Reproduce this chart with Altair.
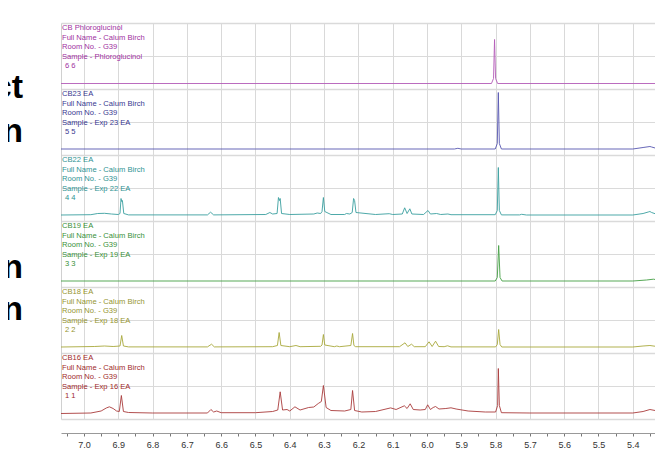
import altair as alt
import pandas as pd

# ---------------- data ----------------
panel_titles = ["CB Phloroglucinol", "CB23 EA", "CB22 EA", "CB19 EA", "CB18 EA", "CB16 EA"]
panel_samples = ["Phloroglucinol", "Exp 23 EA", "Exp 22 EA", "Exp 19 EA", "Exp 18 EA", "Exp 16 EA"]
panel_numbers = ["6 6", "5 5", "4 4", "3 3", "2 2", "1 1"]
full_name = "Calum Birch"
room_no = "G39"

text_colors = ["#a030a0", "#383890", "#2f9393", "#389038", "#959530", "#a02a2a"]
line_colors = ["#b45cb8", "#5656b0", "#3ba0a0", "#45a045", "#a8a83c", "#aa3c3c"]

# spectra: chemical shift (ppm) and intensity (a.u.)
phl_ppm = [7.067, 5.812, 5.806, 5.803, 5.800, 5.794, 5.30]
phl_int = [0, 0, 5, 44, 5, 0, 0]

cb23_ppm = [7.067, 6.50, 5.92, 5.91, 5.90, 5.801, 5.795, 5.792, 5.789, 5.783,
            5.40, 5.37, 5.35, 5.345, 5.33, 5.30]
cb23_int = [0.5, 0.5, 0.5, 1.2, 0.5, 0.5, 6, 57, 6, 0.5,
            0.5, 2, 3, 2.5, 1, 0.5]

cb22_ppm = [7.067, 6.98, 6.96, 6.94, 6.92, 6.90, 6.895, 6.892, 6.890, 6.888, 6.884,
            6.87, 6.64, 6.631, 6.622, 6.47, 6.458, 6.45, 6.437, 6.433, 6.430, 6.428, 6.424,
            6.40, 6.33, 6.32, 6.31, 6.306, 6.302, 6.298, 6.28, 6.24, 6.235, 6.225,
            6.218, 6.214, 6.211, 6.207, 6.15, 6.11, 6.10, 6.072, 6.065, 6.058, 6.050,
            6.044, 6.01, 5.997, 5.99, 5.972, 5.96, 5.939, 5.93, 5.801, 5.795, 5.792,
            5.789, 5.783, 5.73, 5.724, 5.71, 5.40, 5.37, 5.355, 5.35, 5.345, 5.33, 5.30]
cb22_int = [0.5, 0.8, 2, 2.2, 1.5, 1, 2, 17, 14, 15, 2,
            0.6, 0.6, 3.3, 0.6, 1, 3, 1.5, 2, 18, 15, 17, 2,
            1, 1.5, 2.5, 2, 4, 18, 4, 1, 1, 2, 1.5,
            3, 17, 15, 3, 1, 1.8, 1, 1.5, 7.7, 2, 6.7,
            1.5, 1, 5, 1.5, 2, 1, 1.5, 0.8, 0.8, 5, 48,
            5, 0.6, 0.6, 1.2, 0.5, 0.5, 2, 3.5, 4, 3, 1.2, 0.5]

cb19_ppm = [7.067, 5.801, 5.795, 5.791, 5.787, 5.781, 5.40, 5.36, 5.34, 5.325, 5.30]
cb19_int = [0.5, 0.5, 4, 36, 4, 0.5, 0.5, 1.5, 2.3, 1.5, 0.6]

cb18_ppm = [7.067, 6.97, 6.94, 6.915, 6.895, 6.890, 6.885, 6.87, 6.64, 6.628, 6.62,
            6.45, 6.436, 6.431, 6.426, 6.40, 6.382, 6.37, 6.31, 6.306, 6.302, 6.298,
            6.27, 6.263, 6.255, 6.222, 6.217, 6.213, 6.208, 6.08, 6.064, 6.056, 6.045,
            6.037, 6.005, 5.994, 5.985, 5.975, 5.966, 5.95, 5.94, 5.93, 5.80, 5.795,
            5.791, 5.787, 5.782, 5.40, 5.37, 5.35, 5.33, 5.30]
cb18_int = [0.5, 1, 1.5, 1, 1.5, 12, 1.5, 0.6, 0.6, 3.3, 0.6,
            0.8, 2, 15, 2, 0.8, 2, 0.8, 1.2, 2.5, 13, 2.5,
            0.8, 1.5, 0.8, 2, 14, 2, 0.8, 0.8, 4.7, 1, 3.3,
            0.8, 0.8, 5.7, 1, 6.3, 1, 0.8, 1.7, 0.6, 0.6, 3,
            18, 3, 0.5, 0.5, 1.5, 2, 1, 0.5]

cb16_ppm = [7.067, 6.98, 6.95, 6.935, 6.926, 6.915, 6.905, 6.897, 6.891, 6.885, 6.87,
            6.80, 6.64, 6.630, 6.622, 6.613, 6.60, 6.50, 6.45, 6.435, 6.428, 6.421,
            6.408, 6.400, 6.385, 6.37, 6.345, 6.33, 6.317, 6.308, 6.302, 6.294, 6.28,
            6.24, 6.222, 6.217, 6.211, 6.19, 6.15, 6.106, 6.09, 6.066, 6.058, 6.049,
            6.04, 6.02, 6.005, 5.998, 5.990, 5.982, 5.975, 5.965, 5.945, 5.93, 5.915,
            5.88, 5.83, 5.800, 5.794, 5.792, 5.789, 5.783, 5.70, 5.40, 5.37, 5.35,
            5.335, 5.32, 5.30]
cb16_int = [0, 0.5, 2.5, 5.5, 6.7, 5, 2.5, 2, 18, 2, 1,
            0.5, 0.5, 4, 1.5, 2.5, 0.8, 0.8, 2, 3.5, 21.7, 3.5,
            4, 2.5, 6.7, 3.5, 6, 6.5, 10, 12, 28, 6, 3,
            2.5, 4, 23, 3, 1.5, 2, 5.6, 4, 7.7, 5, 9.7,
            4, 3.5, 4, 8.7, 4, 6, 7, 4.5, 5, 5.7, 4.5,
            2.5, 1.5, 1.5, 8, 45, 8, 0.8, 0.5, 0.5, 2, 4,
            3, 1, 0.5]

spectra = [(phl_ppm, phl_int), (cb23_ppm, cb23_int), (cb22_ppm, cb22_int),
           (cb19_ppm, cb19_int), (cb18_ppm, cb18_int), (cb16_ppm, cb16_int)]

x_labels = [7.0, 6.9, 6.8, 6.7, 6.6, 6.5, 6.4, 6.3, 6.2, 6.1, 6.0, 5.9, 5.8, 5.7, 5.6, 5.5, 5.4, 5.3]
side_text = ["ct", "n", "n", "n"]

# ---------------- layout ----------------
PANEL = 66          # height of one stacked panel (px == y units)
BASE = 5.5          # baseline lift inside a panel
N = len(spectra)
H = PANEL * N
W = 594
X_DOMAIN = [7.067, 7.067 - W / 343.0]

rows = []
for k, (pp, ii) in enumerate(spectra):
    off = PANEL * (N - 1 - k) + BASE
    for p, v in zip(pp, ii):
        rows.append({"ppm": p, "y": off + v, "series": panel_titles[k], "stroke": line_colors[k]})
spec_df = pd.DataFrame(rows)

trows = []
for k in range(N):
    lines = [panel_titles[k], f"Full Name -  {full_name}", f"Room No. -  {room_no}",
             f"Sample -  {panel_samples[k]}", panel_numbers[k]]
    for i, t in enumerate(lines):
        trows.append({"t": t, "tx": 4 if i == 4 else 1, "ty": PANEL * k + 5 + 9.5 * i,
                      "c": text_colors[k]})
text_df = pd.DataFrame(trows)

side_y = [75.3, 118.7, 255.3, 297.0]
side_df = pd.DataFrame({"t": side_text, "tx": [-38] * 4, "ty": side_y})

tick_vals = [round(7.05 - 0.05 * i, 2) for i in range(35)]
is_major = "abs(datum.value*10 - round(datum.value*10)) < 0.001"

x_enc = alt.X(
    "ppm:Q",
    scale=alt.Scale(domain=X_DOMAIN, nice=False, zero=False),
    axis=alt.Axis(
        values=tick_vals,
        labelExpr=f"{is_major} ? format(datum.value, '.1f') : ''",
        grid=True,
        gridColor="#d9d9d9",
        gridOpacity={"condition": {"test": is_major, "value": 1}, "value": 0},
        offset=14,
        tickSize=3,
        tickColor="#777777",
        domainColor="#999999",
        labelFont="Liberation Sans",
        labelFontSize=9,
        labelColor="#333333",
        labelPadding=4,
        labelOverlap=False,
        labelFlush=False,
        title="f1 (ppm)",
        titleFont="Liberation Sans",
        titleFontSize=10,
        titleFontWeight="normal",
        titleColor="#888888",
        titlePadding=1,
    ),
)

y_enc = alt.Y(
    "y:Q",
    scale=alt.Scale(domain=[0, H], nice=False, zero=False),
    axis=alt.Axis(
        values=[33 * i for i in range(13)],
        labels=False,
        ticks=False,
        title=None,
        domain=True,
        domainColor="#d0d0d0",
        grid=True,
        gridColor="#dadada",
        gridWidth={"condition": {"test": "datum.value % 66 == 0", "value": 1.6}, "value": 1},
    ),
)

lines = alt.Chart(spec_df).mark_line(strokeWidth=1.0, clip=True, opacity=0.9).encode(
    x=x_enc,
    y=y_enc,
    detail="series:N",
    color=alt.Color("stroke:N", scale=None),
)

labels = alt.Chart(text_df).mark_text(
    align="left", baseline="middle", font="Liberation Sans", fontSize=7.6
).encode(
    x=alt.X("tx:Q", scale=None, axis=None),
    y=alt.Y("ty:Q", scale=None, axis=None),
    text="t:N",
    color=alt.Color("c:N", scale=None),
)

side = alt.Chart(side_df).mark_text(
    align="right", baseline="alphabetic", font="Liberation Sans", fontSize=34,
    fontWeight="bold", color="#000000"
).encode(
    x=alt.X("tx:Q", scale=None, axis=None),
    y=alt.Y("ty:Q", scale=None, axis=None),
    text="t:N",
)

chart = alt.layer(lines, labels, side).properties(
    width=W,
    height=H,
    autosize=alt.AutoSizeParams(type="none"),
    padding={"left": 53, "top": 15, "right": 0, "bottom": 31},
    background="white",
).configure_view(strokeWidth=0)

chart.save("out.html", embed_options={"renderer": "svg", "actions": False})
